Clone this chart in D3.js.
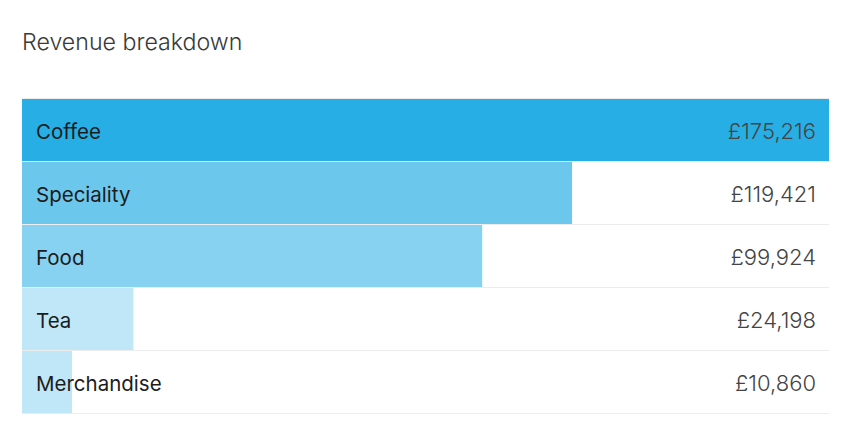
<!DOCTYPE html>
<html><head><meta charset="utf-8">
<script src="https://cdn.jsdelivr.net/npm/d3@7"></script>
<style>body{margin:0;background:#fff;font-family:Inter,"Open Sans",sans-serif;}</style>
</head><body><svg id="c" width="865" height="444"></svg>
<script>
const categories = ["Coffee","Speciality","Food","Tea","Merchandise"];
const values = [175216,119421,99924,24198,10860];
const colors = ["#27aee4","#6cc7ed","#87d1f1","#bfe7f8","#bfe7f8"];

(function(){
const svg = d3.select("#c");
const mLeft = 22, mRight = 829, mTop = 99, rowH = 63;
const x = d3.scaleLinear().domain([0, d3.max(values)]).range([mLeft, mRight]);
const y = d3.scaleBand().domain(categories).range([mTop, mTop + rowH*categories.length]).padding(0);
const fmt = v => "£" + d3.format(",")(v);

svg.append("text").attr("x",22).attr("y",50).attr("font-size",23.2).attr("font-weight",300).attr("fill","#3a3a3a").text("Revenue breakdown");

svg.append("line").attr("x1",mLeft).attr("x2",mRight).attr("y1",mTop-0.5).attr("y2",mTop-0.5).attr("stroke","#ececec");

const rows = svg.selectAll("g.row").data(categories).join("g").attr("class","row");
rows.append("rect").attr("x",mLeft).attr("y",d=>y(d)).attr("height",y.bandwidth()-1)
  .attr("width",(d,i)=>x(values[i])-mLeft).attr("fill",(d,i)=>colors[i]);
rows.append("line").attr("x1",mLeft).attr("x2",mRight)
  .attr("y1",d=>y(d)+y.bandwidth()-0.5).attr("y2",d=>y(d)+y.bandwidth()-0.5).attr("stroke","#ececec");
rows.append("text").attr("x",36).attr("y",d=>y(d)+y.bandwidth()/2+8).attr("font-size",20.5).attr("fill","#1c1c1c").text(d=>d);
rows.append("text").attr("x",816).attr("y",d=>y(d)+y.bandwidth()/2+8).attr("text-anchor","end").attr("font-size",22).attr("font-weight",300).attr("fill","#444").text((d,i)=>fmt(values[i]));
})();
</script></body></html>
